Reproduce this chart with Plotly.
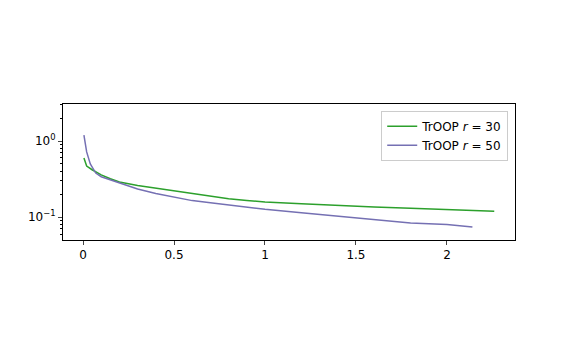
import plotly.graph_objects as go

# ── datos ─────────────────────────────────────────────────────────
x_r30 = [0.005, 0.02, 0.05, 0.1, 0.15, 0.2, 0.3, 0.4, 0.5, 0.6, 0.7, 0.75,
         0.8, 0.9, 1.0, 1.2, 1.4, 1.5, 1.6, 1.8, 2.0, 2.15, 2.26]
y_r30 = [0.60, 0.47, 0.42, 0.36, 0.32, 0.29, 0.26, 0.24, 0.22, 0.205, 0.19, 0.18,
         0.175, 0.166, 0.158, 0.15, 0.142, 0.138, 0.136, 0.131, 0.126, 0.123, 0.12]

x_r50 = [0.005, 0.02, 0.04, 0.07, 0.1, 0.15, 0.2, 0.3, 0.4, 0.5, 0.6, 0.7,
         0.8, 0.9, 1.0, 1.2, 1.4, 1.5, 1.6, 1.8, 2.0, 2.14]
y_r50 = [1.2, 0.72, 0.5, 0.38, 0.34, 0.31, 0.28, 0.235, 0.205, 0.183, 0.165, 0.155,
         0.145, 0.134, 0.127, 0.114, 0.103, 0.096, 0.091, 0.084, 0.080, 0.074]

x_ticks = [0, 0.5, 1, 1.5, 2]
x_labels = ["0", "0.5", "1", "1.5", "2"]
y_ticks = [0.1, 1]
y_labels = ["10<sup>−1</sup>", "10<sup>0</sup>"]
y_minor = [0.05, 0.06, 0.07, 0.08, 0.09, 0.2, 0.3, 0.4, 0.5, 0.6, 0.7, 0.8, 0.9, 2, 3]

fig = go.Figure()
fig.add_trace(go.Scatter(x=x_r30, y=y_r30, mode="lines", name="TrOOP <i>r</i> = 30",
                         line=dict(color="#2ca02c", width=1.5)))
fig.add_trace(go.Scatter(x=x_r50, y=y_r50, mode="lines", name="TrOOP <i>r</i> = 50",
                         line=dict(color="#7570b3", width=1.5)))

fig.update_xaxes(range=[-0.11, 2.374], tickvals=x_ticks, ticktext=x_labels,
                 ticks="outside", ticklen=4, showgrid=False, zeroline=False,
                 showline=True, linecolor="black", mirror=True, linewidth=1)
fig.update_yaxes(type="log", range=[-1.30, 0.487], tickvals=y_ticks, ticktext=y_labels,
                 ticks="outside", ticklen=4, showgrid=False, zeroline=False,
                 showline=True, linecolor="black", mirror=True, linewidth=1,
                 minor=dict(tickvals=y_minor, ticks="outside", ticklen=2,
                            tickcolor="black", showgrid=False))

fig.update_layout(
    width=562, height=343,
    margin=dict(l=55, r=55, t=96, b=111),
    plot_bgcolor="white", paper_bgcolor="white",
    font=dict(family="DejaVu Sans", size=12, color="black"),
    legend=dict(x=0.985, y=0.95, xanchor="right", yanchor="top",
                bgcolor="rgba(255,255,255,0.8)", bordercolor="#cccccc", borderwidth=1,
                font=dict(size=12)),
)

fig.write_html("out.html")
